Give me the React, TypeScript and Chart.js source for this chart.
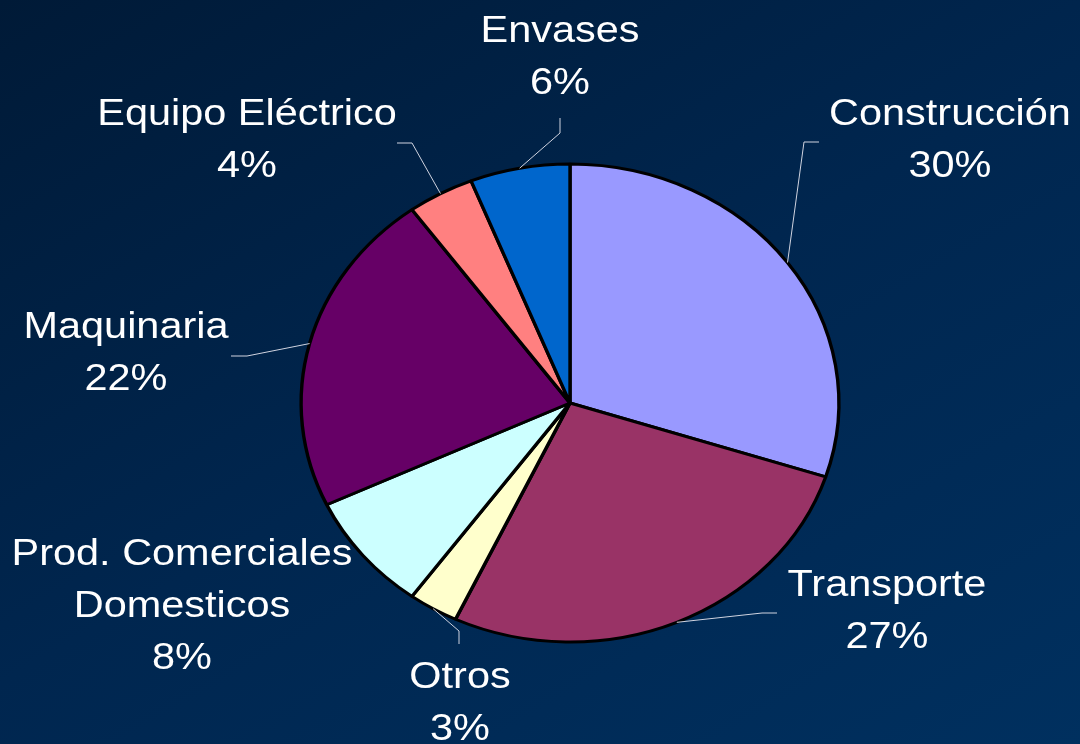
import React, { useEffect, useRef } from "react";
import { Chart, registerables } from "chart.js";

Chart.register(...registerables);

const categories = [
  "Construcción",
  "Transporte",
  "Otros",
  "Prod. Comerciales Domesticos",
  "Maquinaria",
  "Equipo Eléctrico",
  "Envases",
];
const values = [30, 27, 3, 8, 22, 4, 6];
const labelLines = [
  ["Construcción"],
  ["Transporte"],
  ["Otros"],
  ["Prod. Comerciales", "Domesticos"],
  ["Maquinaria"],
  ["Equipo Eléctrico"],
  ["Envases"],
];
const sliceColors = ["#9999FF", "#993366", "#FFFFCC", "#CCFFFF", "#660066", "#FF8080", "#0066CC"];

// layout of the outside labels (centre x, first baseline y) and leader-line elbows
const labelLayout = [
  { x: 950, y: 125, leader: [[819, 142], [804, 142]] },
  { x: 887, y: 596, leader: [[777, 613], [762, 613]] },
  { x: 460, y: 688, leader: [[459, 644], [459, 631]] },
  { x: 182, y: 565, leader: null },
  { x: 126, y: 338, leader: [[231, 356], [247, 356]] },
  { x: 247, y: 125, leader: [[397, 143], [412, 143]] },
  { x: 560, y: 42, leader: [[560, 118], [560, 133]] },
];

const STRETCH = 1.12;
const FONT = '37px "Liberation Sans", Arial, sans-serif';
const LINE_H = 52;

const stretchPlugin = {
  id: "stretchPie",
  beforeDatasetsDraw(chart: any) {
    const arc = chart.getDatasetMeta(0).data[0];
    const ctx = chart.ctx;
    ctx.save();
    ctx.translate(arc.x, arc.y);
    ctx.scale(1.125, 1);
    ctx.translate(-arc.x, -arc.y);
  },
  afterDatasetsDraw(chart: any) {
    chart.ctx.restore();
  },
};

const labelPlugin = {
  id: "outsideLabels",
  afterDraw(chart: any) {
    const ctx = chart.ctx;
    const meta = chart.getDatasetMeta(0);
    const total = values.reduce((a, b) => a + b, 0);
    meta.data.forEach((arc: any, i: number) => {
      const lay = labelLayout[i];
      const mid = (arc.startAngle + arc.endAngle) / 2;
      const ex = arc.x + 1.125 * arc.outerRadius * Math.cos(mid);
      const ey = arc.y + arc.outerRadius * Math.sin(mid);
      if (lay.leader) {
        ctx.save();
        ctx.strokeStyle = "#D0D4E0";
        ctx.lineWidth = 1;
        ctx.beginPath();
        ctx.moveTo(lay.leader[0][0], lay.leader[0][1]);
        ctx.lineTo(lay.leader[1][0], lay.leader[1][1]);
        ctx.lineTo(ex, ey);
        ctx.stroke();
        ctx.restore();
      }
      const lines = [...labelLines[i], Math.round((values[i] / total) * 100) + "%"];
      ctx.save();
      ctx.fillStyle = "#FFFFFF";
      ctx.font = FONT;
      ctx.textAlign = "center";
      ctx.textBaseline = "alphabetic";
      lines.forEach((t, k) => {
        ctx.save();
        ctx.translate(lay.x, lay.y + k * LINE_H);
        ctx.scale(STRETCH, 1);
        ctx.fillText(t, 0, 0);
        ctx.restore();
      });
      ctx.restore();
    });
  },
};

export default function App() {
  const ref = useRef<HTMLCanvasElement | null>(null);
  useEffect(() => {
    if (!ref.current) return;
    const chart = new Chart(ref.current, {
      type: "pie",
      data: {
        labels: categories,
        datasets: [
          {
            data: values,
            backgroundColor: sliceColors,
            borderColor: "#000000",
            borderWidth: 3,
          },
        ],
      },
      options: {
        responsive: true,
        maintainAspectRatio: false,
        animation: false,
        radius: 239,
        layout: { padding: { left: 60, right: 0, top: 62, bottom: 0 } },
        plugins: {
          legend: { display: false },
          tooltip: { enabled: false },
        },
      } as any,
      plugins: [stretchPlugin, labelPlugin],
    });
    return () => chart.destroy();
  }, []);
  return (
    <div
      style={{
        position: "absolute",
        left: 0,
        top: 0,
        width: 1080,
        height: 744,
        background: "linear-gradient(150deg, #001a37 0%, #00264f 50%, #00305f 100%)",
      }}
    >
      <canvas ref={ref} />
    </div>
  );
}
